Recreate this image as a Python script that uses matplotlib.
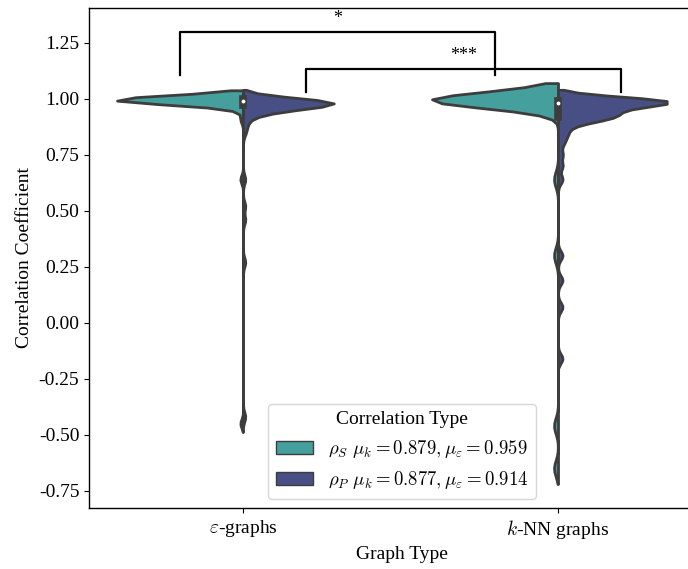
import numpy as np
import pandas as pd
import matplotlib
matplotlib.use('Agg')
import matplotlib.pyplot as plt
from matplotlib.patches import Patch
from matplotlib.ticker import FormatStrFormatter
import seaborn as sns

plt.rcParams['font.family'] = ['Liberation Serif', 'DejaVu Serif']
plt.rcParams['mathtext.fontset'] = 'cm'
plt.rcParams['axes.unicode_minus'] = False
plt.rcParams['font.size'] = 14
plt.rcParams['axes.linewidth'] = 1.0

GRAPH_TYPES = [r'$\varepsilon$-graphs', r'$k$-NN graphs']
CORR_TYPES = ['spearman', 'pearson']
CORR_SYMBOLS = [r'\rho_S', r'\rho_P']
COLORS = ['#45a09d', '#474f85']
LINE_GRAY = '#3d3d3d'
BW_ADJUST = [0.21, 0.19]

# observed correlation values and how many graphs gave each one
eps_spearman_vals = [1.00, 0.99, 0.98, 0.97, 0.96, 0.91, 0.64, -0.45]
eps_spearman_counts = [30, 14, 5, 2, 1, 1, 1, 1]

eps_pearson_vals = [1.00, 0.99, 0.98, 0.97, 0.96, 0.95, 0.94, 0.93, 0.92, 0.90,
                    0.88, 0.85, 0.64, 0.52, 0.46, 0.27, -0.42]
eps_pearson_counts = [5, 12, 13, 9, 6, 4, 2, 2, 1, 1, 1, 1, 1, 1, 1, 1, 1]

knn_spearman_vals = [1.00, 0.99, 0.98, 0.64, 0.30, -0.46, -0.65]
knn_spearman_counts = [15, 15, 2, 1, 1, 1, 1]

knn_pearson_vals = [1.00, 0.99, 0.98, 0.97, 0.96, 0.95, 0.94, 0.93, 0.92, 0.91,
                    0.90, 0.89, 0.87, 0.85, 0.83, 0.80, 0.75, 0.70, 0.64, 0.30,
                    0.19, 0.07, -0.16]
knn_pearson_counts = [6, 9, 7, 4, 2, 2, 3, 3, 3, 3, 2, 1, 1, 1, 1, 1, 1,
                      1, 1, 1, 1, 1, 1]

samples = {
    (GRAPH_TYPES[0], 'spearman'): np.repeat(eps_spearman_vals, eps_spearman_counts),
    (GRAPH_TYPES[0], 'pearson'): np.repeat(eps_pearson_vals, eps_pearson_counts),
    (GRAPH_TYPES[1], 'spearman'): np.repeat(knn_spearman_vals, knn_spearman_counts),
    (GRAPH_TYPES[1], 'pearson'): np.repeat(knn_pearson_vals, knn_pearson_counts),
}

df = pd.concat([pd.DataFrame({'graph': g, 'corr': c, 'value': v})
                for (g, c), v in samples.items()], ignore_index=True)

fig, ax = plt.subplots(figsize=(6.88, 5.69), dpi=100)
ax.set_position([89 / 688, 61 / 569, 626.5 / 688, 500 / 569])

# one call per graph type so the two halves are scaled against each other
for g, bw in zip(GRAPH_TYPES, BW_ADJUST):
    sns.violinplot(data=df[df['graph'] == g], x='graph', y='value', hue='corr',
                   order=GRAPH_TYPES, hue_order=CORR_TYPES, palette=COLORS,
                   split=True, inner=None, common_norm=True, bw_adjust=bw,
                   saturation=1, linecolor=LINE_GRAY, linewidth=2,
                   legend=False, ax=ax)

# box of the pooled values in the middle of each violin
for i, g in enumerate(GRAPH_TYPES):
    vals = df.loc[df['graph'] == g, 'value'].to_numpy()
    q1, med, q3 = np.percentile(vals, [25, 50, 75])
    iqr = q3 - q1
    lo = vals[vals >= q1 - 1.5 * iqr].min()
    hi = vals[vals <= q3 + 1.5 * iqr].max()
    ax.plot([i, i], [lo, hi], color=LINE_GRAY, lw=1.5, zorder=3)
    ax.plot([i, i], [q1, q3], color=LINE_GRAY, lw=5.5, zorder=3,
            solid_capstyle='projecting')
    ax.scatter([i], [med], s=12, color='white', edgecolor=LINE_GRAY,
               lw=0.6, zorder=4)


def bracket(x1, x2, y_low, y_top, text):
    ax.plot([x1, x1, x2, x2], [y_low, y_top, y_top, y_low], color='black', lw=1.6)
    ax.text((x1 + x2) / 2, y_top + 0.02, text, ha='center', va='bottom', fontsize=13)


bracket(-0.2, 0.8, 1.105, 1.299, '*')
bracket(0.2, 1.2, 1.03, 1.133, '***')

ax.set_xlim(-0.489, 1.5)
ax.set_ylim(-0.827, 1.405)
ax.set_yticks(np.arange(-0.75, 1.26, 0.25))
ax.yaxis.set_major_formatter(FormatStrFormatter('%.2f'))
ax.set_xlabel('Graph Type')
ax.set_ylabel('Correlation Coefficient')

labels = []
for c, sym in zip(CORR_TYPES, CORR_SYMBOLS):
    mu_eps = samples[(GRAPH_TYPES[0], c)].mean()
    mu_knn = samples[(GRAPH_TYPES[1], c)].mean()
    labels.append(rf'${sym}\ \mu_k={mu_knn:.3f}, \mu_\varepsilon={mu_eps:.3f}$')
handles = [Patch(facecolor=col, edgecolor=LINE_GRAY, lw=1) for col in COLORS]
ax.legend(handles, labels, title='Correlation Type', loc='lower center',
          fontsize=13.5, title_fontsize=14)

fig.savefig('out.png', dpi=100)
